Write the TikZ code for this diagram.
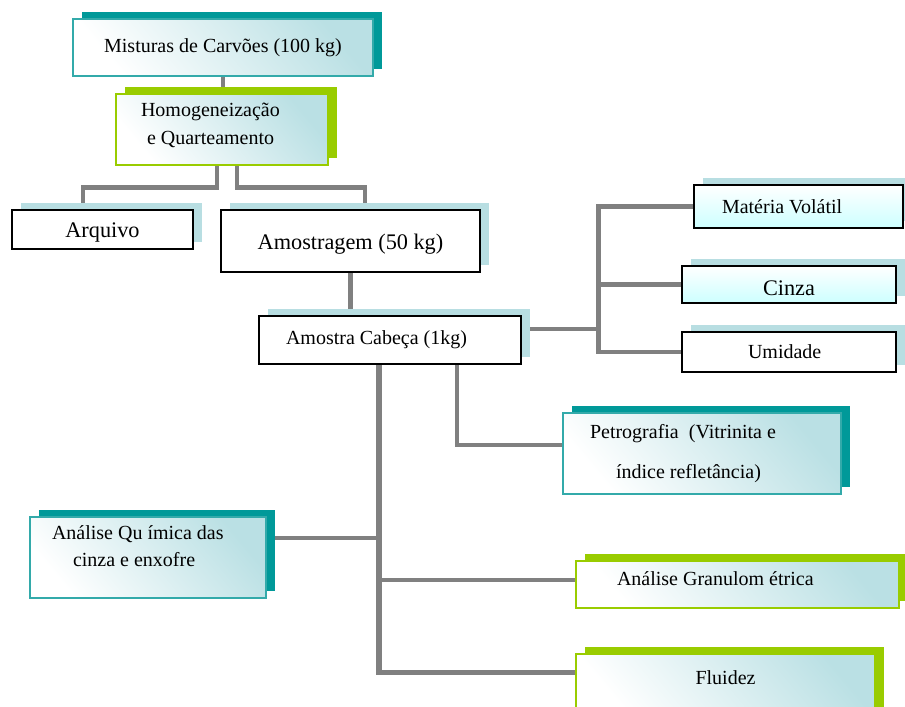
\documentclass[tikz,border=0pt]{standalone}
\usepackage{fontspec}
\setmainfont{Liberation Serif}
\usetikzlibrary{calc,shadows,backgrounds}
\definecolor{shteal}{RGB}{0,153,153}
\definecolor{edteal}{RGB}{51,170,170}
\definecolor{shgreen}{RGB}{153,204,0}
\definecolor{shblue}{RGB}{184,222,226}
\definecolor{gradteal}{RGB}{186,224,228}
\definecolor{lcyan}{RGB}{204,255,255}
\definecolor{linegray}{RGB}{128,128,128}
\tikzset{
  base/.style={rectangle, inner ysep=0pt, line width=1.1pt, align=center,
    font=\fontsize{15}{18}\selectfont},
  big/.style={font=\fontsize{16.7}{20}\selectfont, text height=16pt},
  sz/.style 2 args={minimum width=#1, minimum height=#2},
  padl/.style 2 args={align=flush left, inner xsep=#1, text width=#2},
  shad/.style={general shadow={fill=#1, shadow xshift=7pt, shadow yshift=5.25pt}},
  tealbox/.style={base, draw=edteal, top color=gradteal, bottom color=white,
    shading angle=-50, shad=shteal},
  greenbox/.style={base, draw=shgreen, top color=gradteal, bottom color=white,
    shading angle=-50, shad=shgreen},
  plainbox/.style={base, draw=black, fill=white, shad=shblue},
  cyanbox/.style={base, draw=black, top color=white, bottom color=lcyan, shad=shblue},
  conn/.style={draw=linegray, line width=3.5pt}
}
\begin{document}
\begin{tikzpicture}[x=0.75pt, y=-0.75pt]
  \useasboundingbox (0,0) rectangle (905,706);
  \clip (0,0) rectangle (905,706);
  % boxes
  \node[tealbox, sz={225pt}{42.75pt}] (mist) at (223,47.5) {Misturas de Carvões (100 kg)};
  \node[greenbox, sz={159pt}{53.25pt}, padl={18.75pt}{121.5pt}, font=\fontsize{15}{21}\selectfont,
    text depth=30pt] (homog) at (222,129.5) {Homogeneização\\\hspace*{4.5pt}e Quarteamento};
  \node[plainbox, big, sz={135.75pt}{29.25pt}] (arq) at (102.5,229.5) {Arquivo};
  \node[plainbox, big, sz={194.25pt}{46.5pt}] (amost) at (350.5,241) {Amostragem (50 kg)};
  \node[plainbox, sz={196.5pt}{36pt}, padl={20.25pt}{156pt}] (cab) at (390,340) {Amostra Cabeça (1kg)};
  \node[cyanbox, sz={156.75pt}{32.25pt}, padl={21pt}{114.75pt}] (mat) at (798.5,206.5) {Matéria Volátil};
  \node[cyanbox, big, sz={160.5pt}{27.75pt}] (cinza) at (789,284.5) {Cinza};
  \node[plainbox, sz={160.5pt}{30pt}, padl={49.5pt}{61.5pt}] (umid) at (789,352) {Umidade};
  \node[tealbox, sz={208.5pt}{60.75pt}, padl={20.25pt}{168pt}, font=\fontsize{15}{30}\selectfont]
    (petro) at (702,453.5) {Petrografia\ \ (Vitrinita e\\\hspace*{19.5pt}índice refletância)};
  \node[tealbox, sz={177pt}{60.75pt}, padl={16.5pt}{144pt}, font=\fontsize{15}{20}\selectfont,
    text depth=37pt] (quim) at (148,557.5) {Análise Qu ímica das\\\hspace*{15.75pt}cinza e enxofre};
  \node[greenbox, sz={242.25pt}{35.25pt}, padl={30.75pt}{180.75pt}, text depth=9pt]
    (gran) at (737.5,584.5) {Análise Granulom étrica};
  \node[greenbox, sz={224.25pt}{45pt}, text depth=9pt] (flu) at (725.5,684) {Fluidez};
  % connectors
  \begin{scope}[on background layer]
    \draw[conn] (mist.south) -- (mist.south |- homog.north);
    \draw[conn] ($(homog.south)+(-5,0)$) |- ($(arq.north)+(-19.5,-22)$) -- ($(arq.north)+(-19.5,0)$);
    \draw[conn] ($(homog.south)+(15,0)$) |- ($(amost.north)+(14.5,-22)$) -- ($(amost.north)+(14.5,0)$);
    \draw[conn] (amost.south) -- (amost.south |- cab.north);
    \draw[conn] ($(cab.east)+(0,-11)$) -- ++(77,0) coordinate (rj);
    \draw[conn] (mat.west) -| (rj) |- (umid.west);
    \draw[conn] (cinza.west) -- (cinza.west -| rj);
    \draw[conn, line width=4pt] ($(cab.south)+(-11,0)$) coordinate (cs) |- ($(flu.west)+(0,-11.5)$);
    \coordinate (gj) at ($(gran.west)+(0,-4.5)$);
    \coordinate (qj) at ($(quim.east)+(0,-19.5)$);
    \draw[conn] (gj) -- (gj -| cs);
    \draw[conn] (qj) -- (qj -| cs);
    \draw[conn, line width=3pt] ($(cab.south)+(67,0)$) |- ($(petro.west)+(0,-8.5)$);
  \end{scope}
\end{tikzpicture}
\end{document}
